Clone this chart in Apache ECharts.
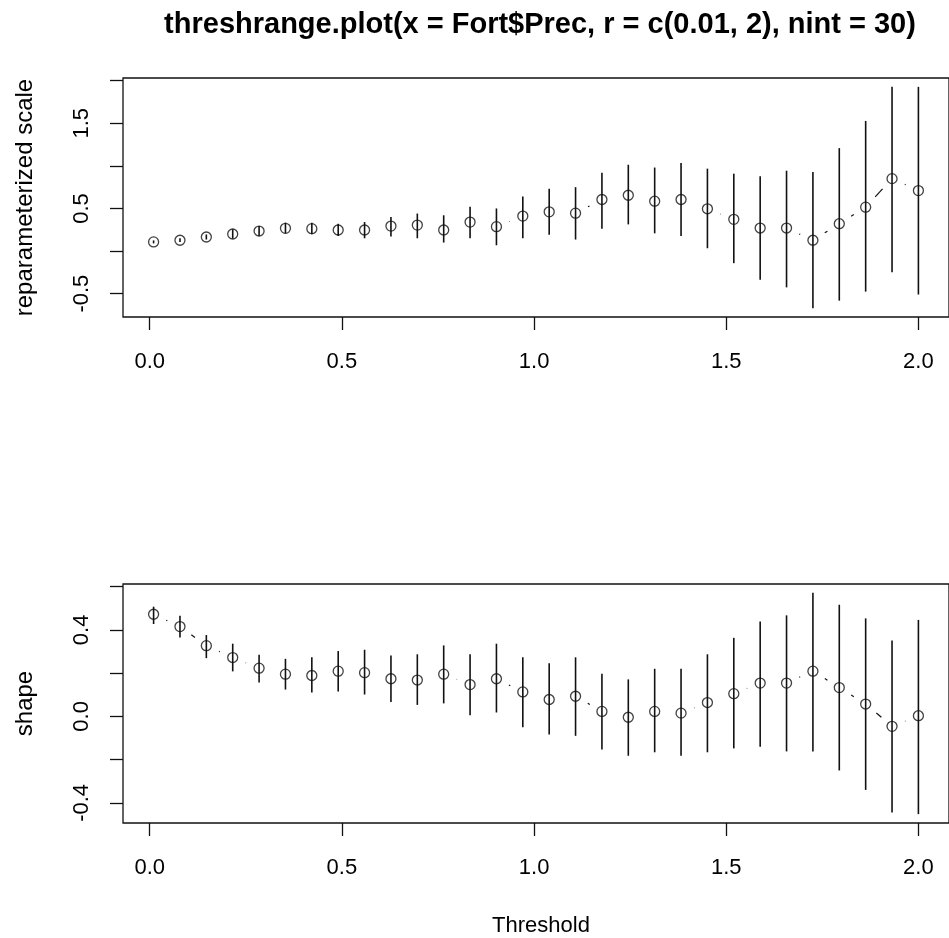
<!DOCTYPE html>
<html>
<head>
<meta charset="utf-8">
<script src="https://cdn.jsdelivr.net/npm/echarts@6/dist/echarts.min.js"></script>
<style>
  html, body { margin: 0; padding: 0; background: #ffffff; }
  #chart { width: 949px; height: 938px; }
</style>
</head>
<body>
<div id="chart"></div>
<script>
// Thresholds: 30 evenly spaced values between 0.01 and 2
const thresholds = [0.01, 0.07862, 0.14724, 0.21586, 0.28448, 0.35310, 0.42172, 0.49034,
  0.55897, 0.62759, 0.69621, 0.76483, 0.83345, 0.90207, 0.97069, 1.03931, 1.10793,
  1.17655, 1.24517, 1.31379, 1.38241, 1.45103, 1.51966, 1.58828, 1.65690, 1.72552,
  1.79414, 1.86276, 1.93138, 2.0];

// Reparameterized scale: estimate and confidence limits
const scaleEst = [0.107, 0.127, 0.165, 0.200, 0.235, 0.267, 0.263, 0.247, 0.247, 0.293,
  0.305, 0.247, 0.340, 0.286, 0.410, 0.460, 0.445, 0.605, 0.655, 0.585,
  0.605, 0.496, 0.372, 0.270, 0.270, 0.127, 0.321, 0.515, 0.850, 0.710];
const scaleLower = [0.090, 0.105, 0.135, 0.147, 0.177, 0.208, 0.197, 0.177, 0.150, 0.170,
  0.150, 0.100, 0.150, 0.068, 0.150, 0.190, 0.135, 0.263, 0.313, 0.208,
  0.177, 0.033, -0.142, -0.337, -0.426, -0.670, -0.582, -0.476, -0.250, -0.510];
const scaleUpper = [0.125, 0.150, 0.195, 0.256, 0.293, 0.333, 0.333, 0.320, 0.340, 0.400,
  0.440, 0.420, 0.520, 0.500, 0.640, 0.730, 0.750, 0.920, 1.013, 0.980,
  1.033, 0.967, 0.908, 0.877, 0.943, 0.928, 1.208, 1.527, 1.927, 1.927];

// Shape: estimate and confidence limits
const shapeEst = [0.472, 0.415, 0.327, 0.272, 0.223, 0.195, 0.189, 0.209, 0.202, 0.174,
  0.168, 0.195, 0.147, 0.174, 0.113, 0.078, 0.093, 0.023, -0.004, 0.023,
  0.015, 0.064, 0.105, 0.154, 0.154, 0.209, 0.133, 0.057, -0.046, 0.003];
const shapeLower = [0.427, 0.365, 0.269, 0.208, 0.157, 0.124, 0.110, 0.115, 0.101, 0.067,
  0.053, 0.060, 0.005, 0.018, -0.050, -0.084, -0.090, -0.153, -0.182, -0.166,
  -0.182, -0.166, -0.148, -0.140, -0.162, -0.162, -0.250, -0.340, -0.444, -0.452];
const shapeUpper = [0.507, 0.465, 0.376, 0.336, 0.285, 0.266, 0.273, 0.302, 0.308, 0.281,
  0.287, 0.328, 0.287, 0.336, 0.273, 0.246, 0.273, 0.197, 0.171, 0.220,
  0.220, 0.287, 0.363, 0.438, 0.467, 0.571, 0.516, 0.453, 0.351, 0.446];

// Tick positions and which of them carry labels
const xTicks = [0, 0.5, 1, 1.5, 2];
const scaleTicks = [-0.5, 0, 0.5, 1, 1.5, 2];
const scaleTickLabels = [-0.5, 0.5, 1.5];
const shapeTicks = [-0.4, -0.2, 0, 0.2, 0.4, 0.6];
const shapeTickLabels = [-0.4, 0, 0.4];

const titleText = 'threshrange.plot(x = Fort$Prec, r = c(0.01, 2), nint = 30)';
const xName = 'Threshold';
const scaleName = 'reparameterized scale';
const shapeName = 'shape';

// Axis limits extended by 4% of the data range on each side
function padRange(lo, hi) {
  const d = (hi - lo) * 0.04;
  return [lo - d, hi + d];
}
const xLim = padRange(Math.min(...thresholds), Math.max(...thresholds));
const scaleLim = padRange(Math.min(...scaleLower), Math.max(...scaleUpper));
const shapeLim = padRange(Math.min(...shapeLower), Math.max(...shapeUpper));

const INK = '#111111';
const FONT = '"Liberation Sans", Arial, sans-serif';
const GAP = 14; // blank space left around each point by the connecting line

function barRows(lo, hi) { return thresholds.map((t, i) => [t, lo[i], hi[i]]); }
function pointRows(est) { return thresholds.map((t, i) => [t, est[i]]); }
function linkRows(est) {
  const rows = [];
  for (let i = 0; i < thresholds.length - 1; i++) {
    rows.push([thresholds[i], est[i], thresholds[i + 1], est[i + 1]]);
  }
  return rows;
}

function renderBar(params, api) {
  const a = api.coord([api.value(0), api.value(1)]);
  const b = api.coord([api.value(0), api.value(2)]);
  return {
    type: 'line',
    shape: { x1: a[0], y1: a[1], x2: b[0], y2: b[1] },
    style: { stroke: INK, lineWidth: 1.6 }
  };
}

function renderLink(params, api) {
  const a = api.coord([api.value(0), api.value(1)]);
  const b = api.coord([api.value(2), api.value(3)]);
  const dx = b[0] - a[0], dy = b[1] - a[1];
  const len = Math.sqrt(dx * dx + dy * dy);
  if (len <= 2 * GAP) return null;
  const ux = dx / len, uy = dy / len;
  return {
    type: 'line',
    shape: {
      x1: a[0] + ux * GAP, y1: a[1] + uy * GAP,
      x2: b[0] - ux * GAP, y2: b[1] - uy * GAP
    },
    style: { stroke: INK, lineWidth: 1.2, lineDash: [12, 12] }
  };
}

function makeXAxis(gridIndex, withName) {
  return {
    type: 'value', gridIndex: gridIndex, position: 'bottom',
    min: xLim[0], max: xLim[1],
    axisLine: { show: false, onZero: false },
    splitLine: { show: false },
    axisTick: { show: true, inside: false, length: 13, customValues: xTicks,
      lineStyle: { color: INK, width: 1.3 } },
    axisLabel: { show: true, customValues: xTicks, margin: 34, fontSize: 22,
      fontFamily: FONT, color: '#000', formatter: v => v.toFixed(1) },
    name: withName ? xName : '',
    nameLocation: 'middle', nameGap: 92,
    nameTextStyle: { fontSize: 22, fontFamily: FONT, color: '#000', padding: [0, 0, 0, 10] }
  };
}

function makeYAxis(gridIndex, lim, ticks, labels, name) {
  return {
    type: 'value', gridIndex: gridIndex, position: 'left',
    min: lim[0], max: lim[1],
    axisLine: { show: false, onZero: false },
    splitLine: { show: false },
    axisTick: { show: true, inside: false, length: 13, customValues: ticks,
      lineStyle: { color: INK, width: 1.3 } },
    axisLabel: { show: true, customValues: labels, rotate: 90, margin: 30, fontSize: 22,
      fontFamily: FONT, color: '#000', formatter: v => v.toFixed(1) },
    name: name, nameLocation: 'middle', nameRotate: 90, nameGap: 86,
    nameTextStyle: { fontSize: 24, fontFamily: FONT, color: '#000' }
  };
}

function panelSeries(idx, est, lo, hi) {
  return [
    {
      type: 'custom', xAxisIndex: idx, yAxisIndex: idx,
      data: linkRows(est), renderItem: renderLink, z: 3, silent: true,
      encode: { x: [0, 2], y: [1, 3] }
    },
    {
      type: 'scatter', xAxisIndex: idx, yAxisIndex: idx,
      data: pointRows(est), symbol: 'circle', symbolSize: 10, z: 4, silent: true,
      itemStyle: { color: 'rgba(0,0,0,0)', borderColor: INK, borderWidth: 1.3 }
    },
    {
      type: 'custom', xAxisIndex: idx, yAxisIndex: idx,
      data: barRows(lo, hi), renderItem: renderBar, z: 5, silent: true,
      encode: { x: 0, y: [1, 2] }
    }
  ];
}

const chart = echarts.init(document.getElementById('chart'), null, { renderer: 'canvas' });
chart.setOption({
  backgroundColor: '#ffffff',
  animation: false,
  title: {
    text: titleText, left: 535, top: 5, textAlign: 'center',
    textStyle: { fontSize: 29, fontWeight: 'bold', fontFamily: FONT, color: '#000' }
  },
  grid: [
    { left: 123, top: 78, width: 834, height: 239, show: true,
      borderColor: INK, borderWidth: 1.3, backgroundColor: 'transparent' },
    { left: 123, top: 584, width: 834, height: 240, show: true,
      borderColor: INK, borderWidth: 1.3, backgroundColor: 'transparent' }
  ],
  xAxis: [makeXAxis(0, false), makeXAxis(1, true)],
  yAxis: [
    makeYAxis(0, scaleLim, scaleTicks, scaleTickLabels, scaleName),
    makeYAxis(1, shapeLim, shapeTicks, shapeTickLabels, shapeName)
  ],
  series: [].concat(
    panelSeries(0, scaleEst, scaleLower, scaleUpper),
    panelSeries(1, shapeEst, shapeLower, shapeUpper)
  )
});
</script>
</body>
</html>
